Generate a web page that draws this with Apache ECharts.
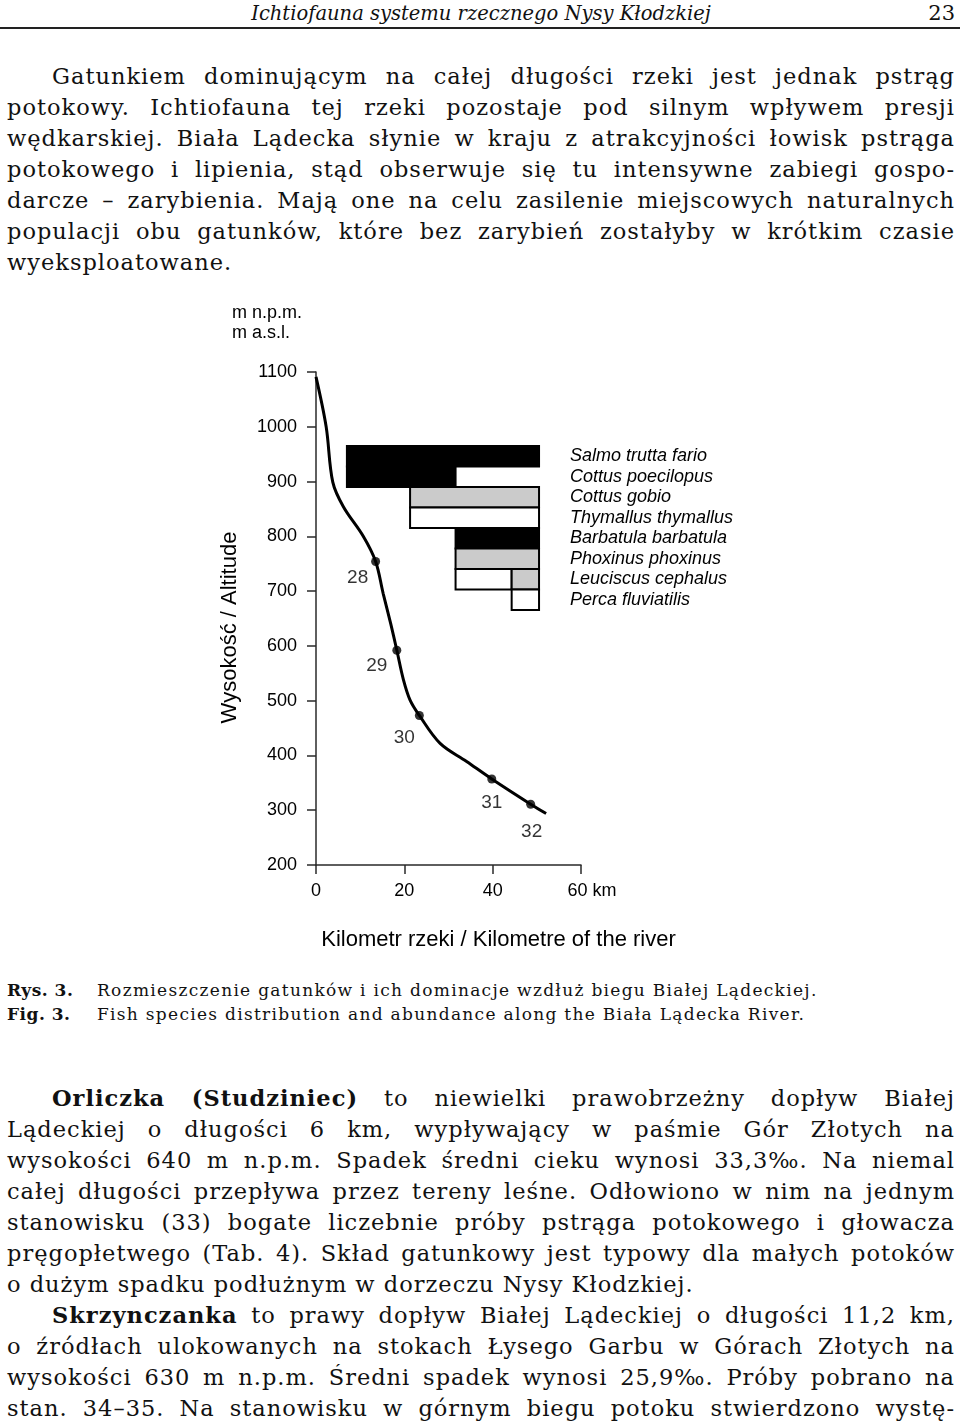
<!DOCTYPE html>
<html>
<head>
<meta charset="utf-8">
<script src="https://cdn.jsdelivr.net/npm/echarts@6/dist/echarts.min.js"></script>
<style>
body { margin:0; width:960px; height:1425px; position:relative; background:#fff; color:#111; font-family:'DejaVu Serif', serif; overflow:hidden; }
.hd { position:absolute; top:0; left:0; width:960px; height:27px; line-height:27px; font-size:19.5px; font-style:italic; }
.rule { position:absolute; top:27px; left:0; width:960px; height:2px; background:#222; }
.ln { position:absolute; left:7px; width:948px; height:31px; line-height:31px; font-size:22.5px; letter-spacing:1px; text-align:justify; text-align-last:justify; text-justify:inter-word; }
.ind { left:52px; width:903px; }
.last { text-align-last:left; }
.nb { display:inline-block; }
.cap { position:absolute; left:7px; height:24px; line-height:24px; font-size:17px; letter-spacing:1.3px; }
.cap b { display:inline-block; width:90px; letter-spacing:0.5px; }
#chart { position:absolute; left:0; top:290px; width:960px; height:670px; }
</style>
</head>
<body>
<div class="hd" style="left:0;width:962px;text-align:center">Ichtiofauna systemu rzecznego Nysy Kłodzkiej</div>
<div class="hd" style="left:900px;width:55px;text-align:right;font-style:normal;font-size:21px">23</div>
<div class="rule"></div>

<div class="ln ind" style="top:61px">Gatunkiem dominującym na całej długości rzeki jest jednak pstrąg</div>
<div class="ln" style="top:92px">potokowy. Ichtiofauna tej rzeki pozostaje pod silnym wpływem presji</div>
<div class="ln" style="top:123px">wędkarskiej. Biała Lądecka słynie w kraju z atrakcyjności łowisk pstrąga</div>
<div class="ln" style="top:154px">potokowego i lipienia, stąd obserwuje się tu intensywne zabiegi gospo-</div>
<div class="ln" style="top:185px">darcze – zarybienia. Mają one na celu zasilenie miejscowych naturalnych</div>
<div class="ln" style="top:216px">populacji obu gatunków, które bez zarybień zostałyby w krótkim czasie</div>
<div class="ln last" style="top:247px">wyeksploatowane.</div>

<div id="chart"></div>

<div class="cap" style="top:978px"><b>Rys. 3.</b>Rozmieszczenie gatunków i ich dominacje wzdłuż biegu Białej Lądeckiej.</div>
<div class="cap" style="top:1002px"><b>Fig. 3.</b>Fish species distribution and abundance along the Biała Lądecka River.</div>

<div class="ln ind" style="top:1083px"><b>Orliczka (Studziniec)</b> to niewielki prawobrzeżny dopływ Białej</div>
<div class="ln" style="top:1114px">Lądeckiej o długości 6 km, wypływający w paśmie Gór Złotych na</div>
<div class="ln" style="top:1145px">wysokości 640 m n.p.m. Spadek średni cieku wynosi <span class="nb">33,3‰.</span> Na niemal</div>
<div class="ln" style="top:1176px">całej długości przepływa przez tereny leśne. Odłowiono w nim na jednym</div>
<div class="ln" style="top:1207px">stanowisku (33) bogate liczebnie próby pstrąga potokowego i głowacza</div>
<div class="ln" style="top:1238px">pręgopłetwego (Tab. 4). Skład gatunkowy jest typowy dla małych potoków</div>
<div class="ln last" style="top:1269px">o dużym spadku podłużnym w dorzeczu Nysy Kłodzkiej.</div>
<div class="ln ind" style="top:1300px"><b>Skrzynczanka</b> to prawy dopływ Białej Lądeckiej o długości 11,2 km,</div>
<div class="ln" style="top:1331px">o źródłach ulokowanych na stokach Łysego Garbu w Górach Złotych na</div>
<div class="ln" style="top:1362px">wysokości 630 m n.p.m. Średni spadek wynosi <span class="nb">25,9‰.</span> Próby pobrano na</div>
<div class="ln" style="top:1393px">stan. 34–35. Na stanowisku w górnym biegu potoku stwierdzono wystę-</div>

<script>
// river profile: km from source, altitude m a.s.l.
var profileKm  = [0, 2.3, 3.8, 6.2, 10.7, 13.5, 15.2, 16.9, 18.3, 19.8, 21.3, 23.4, 28.1, 34.1, 39.8, 48.6, 52.1];
var profileAlt = [1091, 1000, 899, 854, 800, 754, 696, 641, 592, 538, 501, 473, 422, 389, 357, 311, 294];

// sampling sites
var siteNames = ['28', '29', '30', '31', '32'];
var siteKm    = [13.5, 18.3, 23.4, 39.8, 48.6];
var siteAlt   = [754, 592, 473, 357, 311];

// species occurrence along the river (km ranges)
var species = ['Salmo trutta fario', 'Cottus poecilopus', 'Cottus gobio', 'Thymallus thymallus',
  'Barbatula barbatula', 'Phoxinus phoxinus', 'Leuciscus cephalus', 'Perca fluviatilis'];
var rangeRow   = [0, 1, 2, 3, 4, 5, 6, 6, 7];
var rangeFrom  = [7.0, 7.0, 21.3, 21.3, 31.6, 31.6, 31.6, 44.3, 44.3];
var rangeTo    = [50.5, 31.6, 50.5, 50.5, 50.5, 50.5, 44.3, 50.5, 50.5];
var rangeLevel = [2, 2, 1, 0, 2, 1, 0, 1, 0]; // 2 dominant, 1 common, 0 rare

var yMin = 200, yMax = 1100;

var levelFill = ['#ffffff', '#cbcbcb', '#000000'];
var siteLabelOffset = [[-18, 16], [-20, 15], [-15, 22], [0, 24], [1, 28]];

var chart = echarts.init(document.getElementById('chart'));
var axisCol = '#2a2a2a';
var font = "'Liberation Sans', Arial, sans-serif";

var profile = profileKm.map(function (k, i) { return [k, profileAlt[i]]; });
var sites = siteKm.map(function (k, i) {
  return {
    value: [k, siteAlt[i]],
    label: { offset: siteLabelOffset[i] }
  };
});
var ranges = rangeFrom.map(function (f, i) {
  return [f, rangeTo[i], rangeRow[i], rangeLevel[i]];
});

var option = {
  animation: false,
  textStyle: { fontFamily: font },
  grid: [
    { left: 316, top: 82, width: 265, height: 493 },
    { left: 316, top: 156, width: 265, height: 164 }
  ],
  xAxis: [{
    gridIndex: 0,
    type: 'value', min: 0, max: 60, interval: 20,
    axisLine: { lineStyle: { color: axisCol, width: 1.5 } },
    axisTick: { length: 9, lineStyle: { color: axisCol, width: 1.5 } },
    splitLine: { show: false },
    axisLabel: {
      margin: 17, fontSize: 18, color: '#000', fontFamily: font,
      formatter: function (v) { return v === 60 ? '{k|60 km}' : String(v); },
      rich: { k: { fontSize: 18, color: '#000', fontFamily: font, padding: [0, 0, 0, 22] } }
    },
    name: 'Kilometr rzeki / Kilometre of the river',
    nameLocation: 'middle', nameGap: 64,
    nameTextStyle: { fontSize: 22, color: '#000', fontFamily: font, padding: [0, 0, 0, 100] }
  }, {
    gridIndex: 1,
    type: 'value', min: 0, max: 60, show: false
  }],
  yAxis: [{
    gridIndex: 0,
    type: 'value', min: yMin, max: yMax, interval: 100,
    axisLine: { show: true, lineStyle: { color: axisCol, width: 1.5 } },
    axisTick: { show: true, length: 9, lineStyle: { color: axisCol, width: 1.5 } },
    splitLine: { show: false },
    axisLabel: { margin: 19, fontSize: 18, color: '#000', fontFamily: font,
      formatter: function (v) { return String(v); } },
    name: 'Wysokość / Altitude',
    nameLocation: 'middle', nameRotate: 90, nameGap: 75,
    nameTextStyle: { fontSize: 22, color: '#000', fontFamily: font, padding: [0, 18, 0, 0] }
  }, {
    gridIndex: 1,
    type: 'category', data: species, inverse: true, position: 'right',
    axisLine: { show: false }, axisTick: { show: false }, splitLine: { show: false },
    axisLabel: { interval: 0, margin: -11, align: 'left', fontSize: 18, fontStyle: 'italic', color: '#000', fontFamily: font }
  }],
  graphic: [{
    type: 'text', left: 232, top: 13,
    style: { text: 'm n.p.m.\nm a.s.l.', font: '18px ' + font, fill: '#000', lineHeight: 20 }
  }],
  series: [{
    type: 'line',
    xAxisIndex: 0, yAxisIndex: 0,
    data: profile,
    smooth: 0.35,
    showSymbol: false,
    lineStyle: { color: '#000', width: 3 },
    z: 3
  }, {
    type: 'scatter',
    xAxisIndex: 0, yAxisIndex: 0,
    data: sites,
    symbolSize: 9,
    itemStyle: { color: '#000' },
    label: {
      show: true, position: 'inside', fontSize: 19, color: '#000', fontFamily: font,
      textBorderWidth: 0,
      formatter: function (p) { return siteNames[p.dataIndex]; }
    },
    z: 4
  }, {
    type: 'custom',
    xAxisIndex: 1, yAxisIndex: 1,
    data: ranges,
    encode: { x: [0, 1], y: 2 },
    renderItem: function (params, api) {
      var a = api.coord([api.value(0), api.value(2)]);
      var b = api.coord([api.value(1), api.value(2)]);
      var h = api.size([0, 1])[1];
      return {
        type: 'rect',
        shape: { x: a[0], y: a[1] - h / 2, width: b[0] - a[0], height: h },
        style: { fill: levelFill[api.value(3)], stroke: '#000', lineWidth: 2 }
      };
    },
    z: 2
  }]
};
chart.setOption(option);
</script>
</body>
</html>
